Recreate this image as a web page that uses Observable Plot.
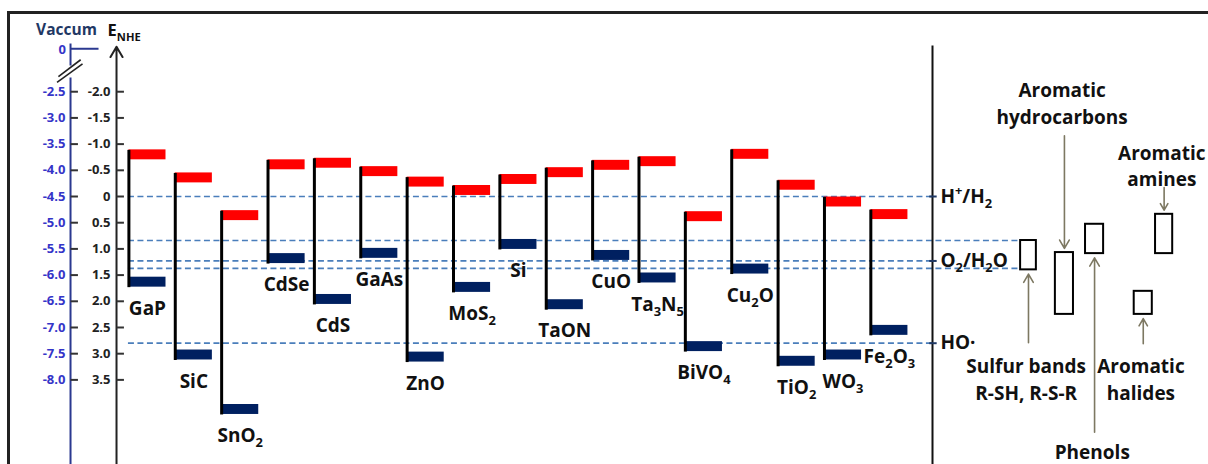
<!DOCTYPE html>
<html><head><meta charset="utf-8">
<script src="https://cdn.jsdelivr.net/npm/d3@7"></script>
<script src="https://cdn.jsdelivr.net/npm/@observablehq/plot@0.6"></script>
<style>
body{margin:0;background:#fff;}
#wrap{position:relative;width:1208px;height:464px;overflow:hidden;background:#fff;}
#frame{position:absolute;left:7px;top:11px;width:1210px;height:470px;border:3px solid #222;box-sizing:border-box;pointer-events:none;}
svg text{font-family:"Open Sans",Lato,sans-serif;font-weight:700;}
</style></head><body><div id="wrap"><div id="frame"></div></div>
<script>
// ---- data (potentials in V vs NHE) ----
const materials = ["GaP","SiC","SnO_2","CdSe","CdS","GaAs","ZnO","MoS_2","Si","TaON","CuO","Ta_3N_5","BiVO_4","Cu_2O","TiO_2","WO_3","Fe_2O_3"];
const conductionBand = [-0.89,-0.45,0.27,-0.70,-0.73,-0.57,-0.37,-0.21,-0.42,-0.55,-0.69,-0.76,0.29,-0.90,-0.31,0.01,0.25];
const valenceBand    = [1.73,3.12,4.16,1.28,2.06,1.18,3.16,1.83,1.01,2.16,1.22,1.65,2.96,1.48,3.24,3.12,2.65];
const nheTicks = [-2.0,-1.5,-1.0,-0.5,0,0.5,1.0,1.5,2.0,2.5,3.0,3.5];
const vacuumTicks = [-2.5,-3.0,-3.5,-4.0,-4.5,-5.0,-5.5,-6.0,-6.5,-7.0,-7.5,-8.0];
const vacuumOffset = -4.5;
const redoxNames = ["H^+/H_2","O_2/H_2O","HO·"];
const redoxPotentials = [0, 1.23, 2.8];
const sulfurLevels = [0.84, 1.37];
const organicNames = ["Sulfur bands\nR-SH, R-S-R","Aromatic\nhydrocarbons","Phenols","Aromatic\nhalides","Aromatic\namines"];
const organicTop = [0.84, 1.07, 0.53, 1.81, 0.34];
const organicBottom = [1.40, 2.25, 1.09, 2.25, 1.09];

// ---- layout (column units of the x scale) ----
const barW = 0.8, barH = 0.19;
const vacAxisX = -1.259, nheAxisX = -0.267, rightAxisX = 17.33, tickLen = 0.16;
const organicX = [19.23, 19.98, 20.63, 21.68, 22.14];
const organicW = [0.34, 0.39, 0.39, 0.39, 0.37];
const organicLabelY = [3.46, -1.80, 4.84, 3.46, -0.61];
const organicArrowFrom = [2.79, -1.16, 4.50, 2.81, -0.17];
const yTop = -3.741, yBottom = 5.115;

const idx = d3.range(materials.length);
const org = d3.range(organicNames.length);
const navy = "#002060", red = "#ff0000", dash = "#4a7ebb", arrowC = "#7d7862";
const vacBlue = "#3535c8";
const W = "bold";
const FS = 19;

const plot = Plot.plot({
  width: 1208, height: 464, margin: 0,
  x: {domain: [-2.769, 23.282], axis: null},
  y: {domain: [yTop, yBottom], reverse: true, axis: null},
  style: {background: "transparent", fontFamily: "'Open Sans', Lato, sans-serif"},
  marks: [
    // dashed reference levels
    Plot.ruleY(redoxPotentials, {x1: -0.01, x2: rightAxisX, stroke: dash, strokeWidth: 1.7, strokeDasharray: "6,3.5"}),
    Plot.ruleY(sulfurLevels, {x1: -0.01, x2: organicX[0] + 0.17, stroke: dash, strokeWidth: 1.7, strokeDasharray: "6,3.5"}),
    // band bars
    Plot.rect(idx, {x1: i => i, x2: i => i + barW, y1: i => conductionBand[i], y2: i => conductionBand[i] + barH, fill: red}),
    Plot.rect(idx, {x1: i => i, x2: i => i + barW, y1: i => valenceBand[i] - barH, y2: i => valenceBand[i], fill: navy}),
    Plot.link(idx, {x1: i => i, x2: i => i, y1: i => conductionBand[i], y2: i => valenceBand[i], stroke: "#000", strokeWidth: 3}),
    Plot.text(idx, {x: i => i + barW / 2, y: i => valenceBand[i] + 0.41, text: i => materials[i], fontSize: FS, fontWeight: W, fill: "#111"}),
    // vacuum axis
    Plot.link([0], {x1: vacAxisX, x2: vacAxisX, y1: -2.92, y2: -2.50, stroke: "#2b3990", strokeWidth: 2}),
    Plot.link([0], {x1: vacAxisX, x2: vacAxisX, y1: -2.27, y2: yBottom, stroke: "#2b3990", strokeWidth: 2}),
    Plot.link([[-1.55, -2.18, -1.00, -2.53], [-1.52, -2.29, -1.04, -2.61]], {x1: d => d[0], y1: d => d[1], x2: d => d[2], y2: d => d[3], stroke: "#222", strokeWidth: 1.6}),
    Plot.link([0], {x1: vacAxisX, x2: -0.655, y1: -2.82, y2: -2.82, stroke: "#2b3990", strokeWidth: 2}),
    Plot.text(["0"], {x: vacAxisX - 0.1, y: -2.80, text: d => d, textAnchor: "end", fontSize: 13, fontWeight: W, fill: vacBlue}),
    Plot.link(vacuumTicks, {x1: vacAxisX, x2: vacAxisX + tickLen, y1: v => vacuumOffset - v, y2: v => vacuumOffset - v, stroke: "#333", strokeWidth: 2}),
    Plot.text(vacuumTicks, {x: vacAxisX - 0.11, y: v => vacuumOffset - v, text: v => v.toFixed(1), textAnchor: "end", fontSize: 13, fontWeight: W, fill: vacBlue}),
    Plot.text(["Vaccum"], {x: -1.346, y: -3.17, text: d => d, fontSize: 15.5, fontWeight: W, fill: "#1f3864"}),
    // NHE axis
    Plot.arrow([0], {x1: nheAxisX, x2: nheAxisX, y1: yBottom, y2: -2.86, stroke: "#222", strokeWidth: 2, headLength: 9}),
    Plot.link(nheTicks, {x1: nheAxisX, x2: nheAxisX + tickLen, y1: v => v, y2: v => v, stroke: "#333", strokeWidth: 2}),
    Plot.text(nheTicks, {x: nheAxisX - 0.13, y: v => v, text: v => v === 0 ? "0" : v.toFixed(1), textAnchor: "end", fontSize: 13, fontWeight: W, fill: "#222"}),
    Plot.text(["E_{NHE}"], {x: -0.46, y: -3.16, text: d => d, textAnchor: "start", fontSize: 16.5, fontWeight: W, fill: "#111"}),
    // right axis with redox couples
    Plot.link([0], {x1: rightAxisX, x2: rightAxisX, y1: -2.88, y2: yBottom, stroke: "#111", strokeWidth: 2}),
    Plot.link(redoxPotentials, {x1: rightAxisX - 0.07, x2: rightAxisX + 0.09, y1: v => v, y2: v => v, stroke: "#1f3864", strokeWidth: 2}),
    Plot.text(redoxPotentials, {x: rightAxisX + 0.17, y: v => v, text: (v, i) => redoxNames[i], textAnchor: "start", fontSize: FS, fontWeight: W, fill: "#111"}),
    // organic pollutant ranges
    Plot.rect(org, {x1: i => organicX[i], x2: i => organicX[i] + organicW[i], y1: i => organicTop[i], y2: i => organicBottom[i], fill: "#fff", stroke: "#000", strokeWidth: 2}),
    Plot.arrow(org, {
      x1: i => organicX[i] + organicW[i] / 2, x2: i => organicX[i] + organicW[i] / 2,
      y1: i => organicArrowFrom[i],
      y2: i => organicArrowFrom[i] > organicBottom[i] ? organicBottom[i] + 0.08 : organicTop[i] - 0.08,
      stroke: arrowC, strokeWidth: 1.6, headLength: 9
    }),
    Plot.text(org, {x: i => organicX[i] + organicW[i] / 2 - 0.05, y: i => organicLabelY[i], text: i => organicNames[i], lineHeight: 1.4, fontSize: FS, fontWeight: W, fill: "#111"})
  ]
});
document.getElementById("wrap").prepend(plot);

// render _x / _{..} subscripts and ^x superscripts as real tspans
function richText(svg) {
  svg.querySelectorAll("text").forEach(t => {
    const targets = t.querySelector("tspan") ? [...t.querySelectorAll("tspan")] : [t];
    targets.forEach(el => {
      const s = el.textContent;
      if (!/[_^]/.test(s)) return;
      const fs = parseFloat(getComputedStyle(el).fontSize) || 16;
      const parts = [];
      let i = 0;
      while (i < s.length) {
        const c = s[i];
        if (c === "_" || c === "^") {
          let content;
          if (s[i + 1] === "{") { const j = s.indexOf("}", i); content = s.slice(i + 2, j); i = j + 1; }
          else { content = s[i + 1]; i += 2; }
          parts.push({text: content, type: c});
        } else {
          let j = i; while (j < s.length && s[j] !== "_" && s[j] !== "^") j++;
          parts.push({text: s.slice(i, j), type: ""}); i = j;
        }
      }
      el.textContent = "";
      let cur = 0;
      for (const p of parts) {
        const sp = document.createElementNS("http://www.w3.org/2000/svg", "tspan");
        const target = p.type === "_" ? 0.28 * fs : p.type === "^" ? -0.38 * fs : 0;
        sp.setAttribute("dy", (target - cur).toFixed(2));
        cur = target;
        if (p.type) sp.setAttribute("font-size", (fs * 0.68).toFixed(1));
        sp.textContent = p.text;
        el.appendChild(sp);
      }
    });
  });
}
richText(plot);
</script></body></html>
